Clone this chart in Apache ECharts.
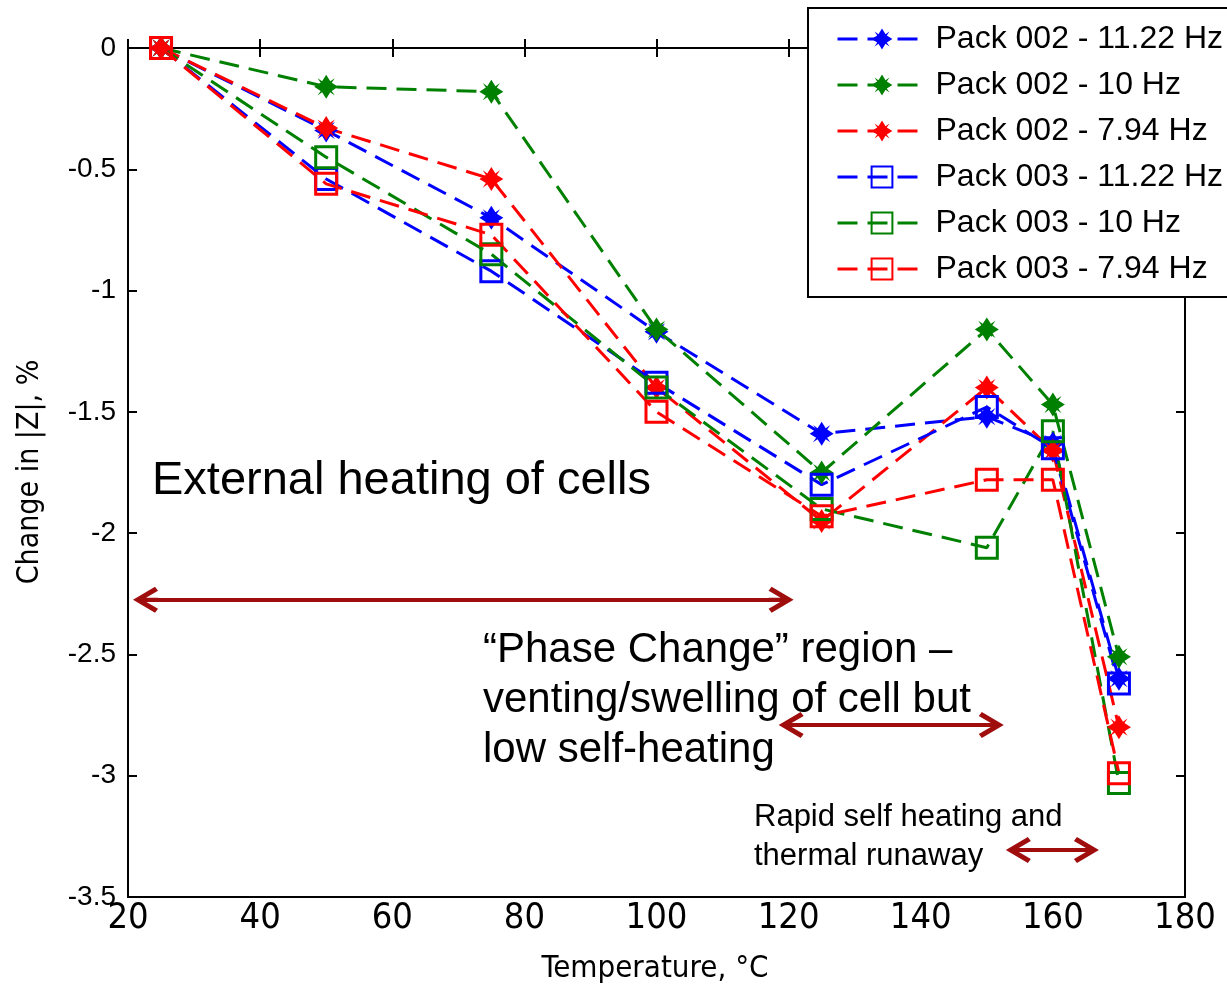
<!DOCTYPE html>
<html>
<head>
<meta charset="utf-8">
<script src="https://cdn.jsdelivr.net/npm/echarts@6/dist/echarts.min.js"></script>
<style>
  html, body { margin: 0; padding: 0; background: #ffffff; }
  #chart { width: 1227px; height: 987px; }
</style>
</head>
<body>
<div id="chart"></div>
<script>
// Test temperatures, °C
const temperatures = [25, 50, 75, 100, 125, 150, 160, 170];

// Change in |Z|, % for each pack / frequency
const pack002_1122 = [0, -0.34, -0.70, -1.17, -1.59, -1.52, -1.63, -2.60];
const pack002_10   = [0, -0.16, -0.18, -1.16, -1.75, -1.16, -1.47, -2.51];
const pack002_794  = [0, -0.33, -0.54, -1.40, -1.95, -1.40, -1.66, -2.80];
const pack003_1122 = [0, -0.54, -0.92, -1.38, -1.80, -1.48, -1.65, -2.62];
const pack003_10   = [0, -0.45, -0.85, -1.40, -1.90, -2.06, -1.58, -3.03];
const pack003_794  = [0, -0.56, -0.77, -1.50, -1.93, -1.78, -1.78, -2.99];

const seriesNames = [
  'Pack 002 - 11.22 Hz', 'Pack 002 - 10 Hz', 'Pack 002 - 7.94 Hz',
  'Pack 003 - 11.22 Hz', 'Pack 003 - 10 Hz', 'Pack 003 - 7.94 Hz'
];

// Axis ranges
const xMin = 20, xMax = 180, xStep = 20;
const yMin = -3.5, yMax = 0, yStep = 0.5;

// Region spans (temperature from/to, level on the |Z| axis)
const regionSpans = [
  { from: 22.65, to: 118.86, level: -2.275 },
  { from: 120.38, to: 150.68, level: -2.791 },
  { from: 154.77, to: 165.08, level: -3.306 }
];

const BLUE = '#0000ff', GREEN = '#008000', RED = '#ff0000', ARROW = '#a00d0d';
const STAR = 'path://M0,-10 L3.4,-4.6 L7.2,-7.2 L4.6,-3.4 L10,0 L4.6,3.4 L7.2,7.2 L3.4,4.6 L0,10 L-3.4,4.6 L-7.2,7.2 L-4.6,3.4 L-10,0 L-4.6,-3.4 L-7.2,-7.2 L-3.4,-4.6 Z';
const CHEVRON = 'path://M0,0 L13,22 L9,25 L2,13 L2,25 L-2,25 L-2,13 L-9,25 L-13,22 Z';

function pairs(values) {
  return temperatures.map((t, i) => [t, values[i]]);
}

function makeSeries(name, values, color, marker) {
  const isSquare = marker === 'square';
  return {
    name: name,
    type: 'line',
    data: pairs(values),
    symbol: isSquare ? 'rect' : STAR,
    symbolSize: isSquare ? 21 : 24,
    showAllSymbol: true,
    lineStyle: { color: color, width: 3, type: [20, 10] },
    itemStyle: isSquare
      ? { color: 'rgba(255,255,255,0)', borderColor: color, borderWidth: 3 }
      : { color: color, borderColor: color, borderWidth: 0 },
    emphasis: { disabled: true },
    z: 3
  };
}

const chart = echarts.init(document.getElementById('chart'), null, { renderer: 'canvas' });

const labelFont = 'Liberation Sans, Arial, sans-serif';
const narrowFont = '"Liberation Sans Narrow", "Arial Narrow", "DejaVu Sans Condensed", sans-serif';

const option = {
  animation: false,
  backgroundColor: '#ffffff',
  grid: {
    left: 128, right: 42, top: 48, bottom: 90,
    show: true, borderColor: '#000', borderWidth: 2, backgroundColor: 'transparent'
  },
  xAxis: [
    {
      type: 'value', min: xMin, max: xMax, interval: xStep, position: 'bottom',
      axisLine: { show: true, lineStyle: { color: '#000', width: 2 } },
      axisTick: { show: true, inside: true, length: 9, lineStyle: { color: '#000', width: 2 } },
      axisLabel: { color: '#000', fontFamily: narrowFont, fontSize: 36, margin: 4 },
      splitLine: { show: false }
    },
    {
      type: 'value', min: xMin, max: xMax, interval: xStep, position: 'top',
      axisLine: { show: true, lineStyle: { color: '#000', width: 2 } },
      axisTick: { show: true, inside: true, length: 9, lineStyle: { color: '#000', width: 2 } },
      axisLabel: { show: false },
      splitLine: { show: false }
    }
  ],
  yAxis: [
    {
      type: 'value', min: yMin, max: yMax, interval: yStep, position: 'left',
      axisLine: { show: true, lineStyle: { color: '#000', width: 2 } },
      axisTick: { show: true, inside: true, length: 9, lineStyle: { color: '#000', width: 2 } },
      axisLabel: { color: '#000', fontFamily: labelFont, fontSize: 28, margin: 12 },
      splitLine: { show: false }
    },
    {
      type: 'value', min: yMin, max: yMax, interval: yStep, position: 'right',
      axisLine: { show: true, lineStyle: { color: '#000', width: 2 } },
      axisTick: { show: true, inside: true, length: 9, lineStyle: { color: '#000', width: 2 } },
      axisLabel: { show: false },
      splitLine: { show: false }
    }
  ],
  legend: {
    data: seriesNames,
    orient: 'vertical',
    left: 808, top: 8,
    padding: [15, 20, 12, 28],
    itemGap: 14,
    itemWidth: 89,
    itemHeight: 26,
    backgroundColor: '#ffffff',
    borderColor: '#000', borderWidth: 2,
    lineStyle: { width: 3 },
    textStyle: { color: '#000', fontFamily: labelFont, fontSize: 32, padding: [0, 0, 0, 4] },
    selectedMode: false,
    z: 10
  },
  series: [
    makeSeries(seriesNames[0], pack002_1122, BLUE, 'star'),
    makeSeries(seriesNames[1], pack002_10, GREEN, 'star'),
    makeSeries(seriesNames[2], pack002_794, RED, 'star'),
    makeSeries(seriesNames[3], pack003_1122, BLUE, 'square'),
    makeSeries(seriesNames[4], pack003_10, GREEN, 'square'),
    makeSeries(seriesNames[5], pack003_794, RED, 'square'),
    {
      name: 'regions',
      type: 'line',
      data: [],
      markLine: {
        silent: true,
        symbol: [CHEVRON, CHEVRON],
        symbolSize: [26, 25],
        label: { show: false },
        lineStyle: { color: ARROW, width: 4, type: 'solid' },
        emphasis: { disabled: true },
        data: regionSpans.map(s => [
          { coord: [s.from, s.level] },
          { coord: [s.to, s.level] }
        ])
      },
      z: 2
    }
  ],
  graphic: [
    {
      type: 'text', x: 152, y: 481,
      style: { text: 'External heating of cells', font: '47px ' + labelFont, fill: '#000',
               textAlign: 'left', textVerticalAlign: 'middle' }
    },
    {
      type: 'text', x: 483, y: 650,
      style: { text: '\u201cPhase Change\u201d region \u2013', font: '42px ' + labelFont, fill: '#000',
               textAlign: 'left', textVerticalAlign: 'middle' }
    },
    {
      type: 'text', x: 483, y: 700,
      style: { text: 'venting/swelling of cell but', font: '42px ' + labelFont, fill: '#000',
               textAlign: 'left', textVerticalAlign: 'middle' }
    },
    {
      type: 'text', x: 483, y: 750,
      style: { text: 'low self-heating', font: '42px ' + labelFont, fill: '#000',
               textAlign: 'left', textVerticalAlign: 'middle' }
    },
    {
      type: 'text', x: 754, y: 817,
      style: { text: 'Rapid self heating and', font: '31px ' + labelFont, fill: '#000',
               textAlign: 'left', textVerticalAlign: 'middle' }
    },
    {
      type: 'text', x: 754, y: 856,
      style: { text: 'thermal runaway', font: '31px ' + labelFont, fill: '#000',
               textAlign: 'left', textVerticalAlign: 'middle' }
    },
    {
      type: 'text', x: 655, y: 969,
      style: { text: 'Temperature, \u00b0C', font: '31px ' + narrowFont, fill: '#000',
               textAlign: 'center', textVerticalAlign: 'middle' }
    },
    {
      type: 'text', x: 30, y: 472, rotation: Math.PI / 2,
      style: { text: 'Change in |Z|, %', font: '30px ' + narrowFont, fill: '#000',
               textAlign: 'center', textVerticalAlign: 'middle' }
    }
  ]
};

chart.setOption(option);
</script>
</body>
</html>
